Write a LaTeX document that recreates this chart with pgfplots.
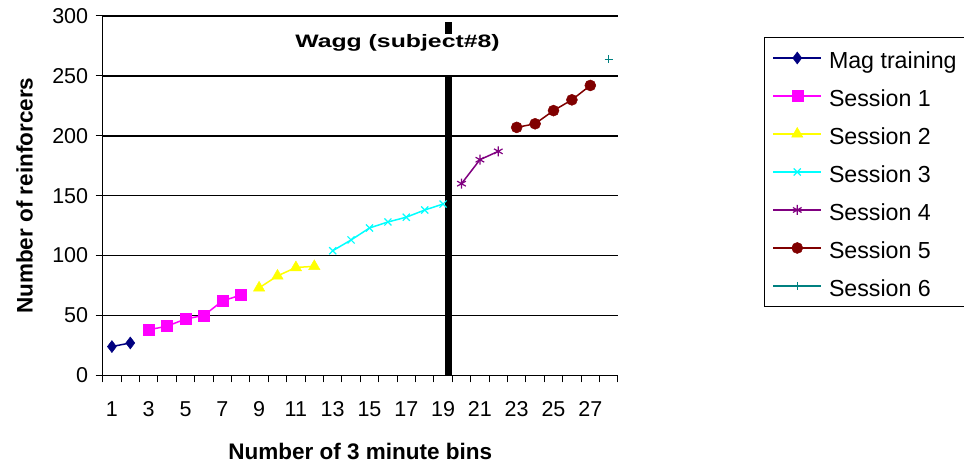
\documentclass[border=0pt]{standalone}
\usepackage{pgfplots}
\pgfplotsset{compat=1.18}
\usepackage{fontspec}
\setmainfont{Liberation Sans}
\definecolor{cmag}{RGB}{0,0,128}
\definecolor{cs1}{RGB}{255,0,255}
\definecolor{cs2}{RGB}{255,255,0}
\definecolor{cs3}{RGB}{0,255,255}
\definecolor{cs4}{RGB}{128,0,128}
\definecolor{cs5}{RGB}{128,0,0}
\definecolor{cs6}{RGB}{0,128,128}
\begin{document}
\begin{tikzpicture}
\begin{axis}[
  scale only axis, width=515.2pt, height=359.3pt,
  xmin=0.5, xmax=28.5, ymin=0, ymax=300,
  clip=false,
  axis lines=left,
  axis line style={-, line width=1.3pt, black},
  ymajorgrids, grid style={black, line width=1.5pt},
  ytick={0,50,...,300},
  xtick={0.5,1.5,...,28.5},
  xticklabels={},
  extra x ticks={1,3,5,7,9,11,13,15,17,19,21,23,25,27},
  extra x tick labels={1,3,5,7,9,11,13,15,17,19,21,23,25,27},
  extra x tick style={major tick length=0pt, grid=none},
  tick align=outside,
  major tick length=7pt,
  tick style={black, line width=1pt},
  /pgf/number format/assume math mode=true,
  tick label style={font=\fontsize{21.5}{26}\selectfont},
  xticklabel style={yshift=-23pt},
  yticklabel style={xshift=-4pt},
  xlabel={Number of 3 minute bins},
  ylabel={Number of reinforcers},
  every axis x label/.style={at={(axis description cs:0.5,-0.2107)}, anchor=center, font=\fontsize{22.5}{27}\selectfont\bfseries},
  every axis y label/.style={at={(axis description cs:-0.1514,0.5)}, rotate=90, anchor=center, font=\fontsize{22.5}{27}\selectfont\bfseries},
  legend style={at={(axis description cs:1.2836,0.9416)}, anchor=north west,
    draw=black, line width=1pt, inner sep=8pt,
    font=\fontsize{23.2}{27}\selectfont,
    nodes={inner sep=0pt, text height=23pt, text depth=2pt, anchor=west},
    row sep=13pt,
    /tikz/every odd column/.append style={column sep=7pt}},
  legend cell align=left,
  legend image code/.code={\draw[mark repeat=2,mark phase=2] plot coordinates {(0pt,0pt) (24pt,0pt) (48pt,0pt)};},
]
\addplot[cmag, line width=1.5pt, mark=diamond*, mark size=6pt, mark options={solid, line width=0.5pt}] coordinates {(1,24) (2,27)};
\addlegendentry{Mag training}
\addplot[cs1, line width=1.5pt, mark=square*, mark size=5.5pt, mark options={solid, line width=0.5pt}] coordinates {(3,38) (4,41) (5,47) (6,50) (7,62) (8,67)};
\addlegendentry{Session 1}
\addplot[cs2, line width=1.5pt, mark=triangle*, mark size=6.5pt, mark options={solid, line width=0.5pt}] coordinates {(9,73) (10,83) (11,90) (12,91)};
\addlegendentry{Session 2}
\addplot[cs3, line width=1.5pt, mark=x, mark size=5pt, mark options={solid, line width=1.2pt}] coordinates {(13,104) (14,113) (15,123) (16,128) (17,132) (18,138) (19,143)};
\addlegendentry{Session 3}
\addplot[cs4, line width=1.5pt, mark=asterisk, mark size=5pt, mark options={solid, line width=1.2pt}] coordinates {(20,160) (21,180) (22,187)};
\addlegendentry{Session 4}
\addplot[cs5, line width=1.5pt, mark=*, mark size=5.5pt, mark options={solid, line width=0.5pt}] coordinates {(23,207) (24,210) (25,221) (26,230) (27,242)};
\addlegendentry{Session 5}
\addplot[cs6, line width=1.5pt, mark=+, mark size=4pt, mark options={solid, line width=1.2pt}] coordinates {(28,264)};
\addlegendentry{Session 6}
\addplot[black, line width=6.5pt, forget plot] coordinates {(19.28,0) (19.28,251)};
\addplot[black, line width=6.5pt, forget plot] coordinates {(19.28,285) (19.28,294.7)};
\node[anchor=center, font=\fontsize{18}{21}\selectfont\bfseries] at (axis cs:16.52,277.5) {\scalebox{1.378}[1]{Wagg (subject\#8)}};
\end{axis}
\pgfresetboundingbox
\path[use as bounding box] (-102.7pt,-92.7pt) rectangle (861.3pt,375.3pt);
\end{tikzpicture}
\end{document}
